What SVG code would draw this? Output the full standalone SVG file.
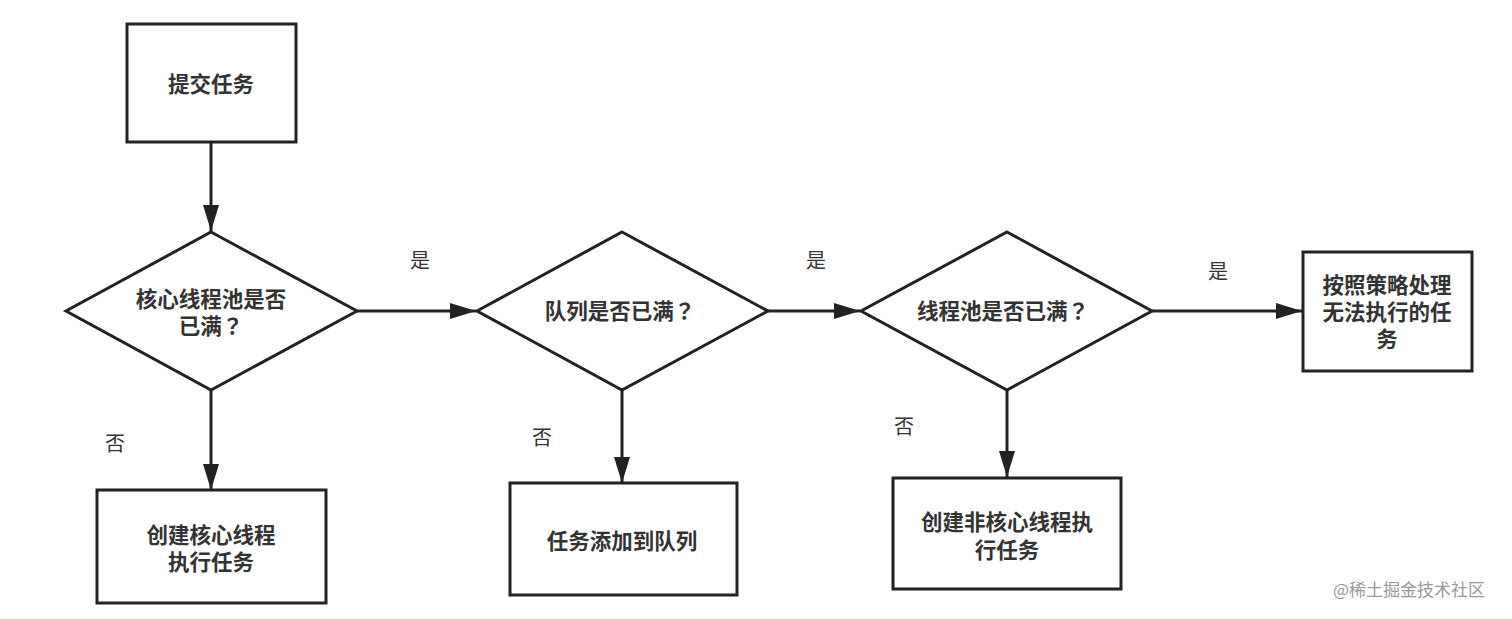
<svg xmlns="http://www.w3.org/2000/svg" width="1512" height="619" viewBox="0 0 1512 619">
<style>
.shape{fill:#fff;stroke:#222;stroke-width:3}
.edge{fill:none;stroke:#222;stroke-width:3}
text{font-family:"Noto Sans CJK SC","Noto Sans",sans-serif;font-size:21.5px;font-weight:bold;fill:#333;text-anchor:middle}
.q{font-family:"Noto Sans CJK TC","Noto Sans CJK SC",sans-serif}
.lbl{font-size:20px;font-weight:normal;fill:#333}
.wm{font-size:17px;font-weight:normal;fill:#999;text-anchor:start}
</style>
<defs>
<marker id="arrB" viewBox="0 0 26 16" refX="26" refY="8" markerWidth="26" markerHeight="16" markerUnits="userSpaceOnUse" orient="auto">
<path d="M0,0 L26,8 L0,16 z" fill="#222"/>
</marker>
</defs>
<rect width="1512" height="619" fill="#fff"/>
<g id="connectors">
<line class="edge" x1="211" y1="142" x2="211" y2="231" marker-end="url(#arrB)"/>
<line class="edge" x1="357" y1="311" x2="476" y2="311" marker-end="url(#arrB)"/>
<line class="edge" x1="768" y1="311" x2="860" y2="311" marker-end="url(#arrB)"/>
<line class="edge" x1="1152" y1="311" x2="1302" y2="311" marker-end="url(#arrB)"/>
<line class="edge" x1="211" y1="390" x2="211" y2="490" marker-end="url(#arrB)"/>
<line class="edge" x1="622" y1="390" x2="622" y2="483" marker-end="url(#arrB)"/>
<line class="edge" x1="1007" y1="390" x2="1007" y2="477" marker-end="url(#arrB)"/>
<text class="lbl" x="420" y="268">是</text>
<text class="lbl" x="816" y="268">是</text>
<text class="lbl" x="1218" y="279">是</text>
<text class="lbl" x="115" y="451">否</text>
<text class="lbl" x="542" y="445">否</text>
<text class="lbl" x="904" y="434">否</text>
</g>
<g id="n1">
<rect class="shape" x="127" y="24" width="169" height="118"/>
<text x="211" y="92">提交任务</text>
</g>
<g id="d1">
<polygon class="shape" points="211,232 357,311 211,390 66,311"/>
<text x="211" y="307">核心线程池是否<tspan x="211" dy="27">已满</tspan><tspan class="q">？</tspan></text>
</g>
<g id="d2">
<polygon class="shape" points="622,232 768,311 622,390 477,311"/>
<text x="620" y="319">队列是否已满<tspan class="q">？</tspan></text>
</g>
<g id="d3">
<polygon class="shape" points="1007,232 1152,311 1007,390 861,311"/>
<text x="1003" y="319">线程池是否已满<tspan class="q">？</tspan></text>
</g>
<g id="n4">
<rect class="shape" x="1303" y="252" width="169" height="119"/>
<text x="1387" y="293">按照策略处理<tspan x="1387" dy="27">无法执行的任</tspan><tspan x="1387" dy="27">务</tspan></text>
</g>
<g id="n2">
<rect class="shape" x="97" y="490" width="229" height="113"/>
<text x="211" y="543">创建核心线程<tspan x="211" dy="27">执行任务</tspan></text>
</g>
<g id="n3">
<rect class="shape" x="510" y="483" width="227" height="112"/>
<text x="622" y="549">任务添加到队列</text>
</g>
<g id="n5">
<rect class="shape" x="893" y="478" width="228" height="111"/>
<text x="1007" y="530">创建非核心线程执<tspan x="1007" dy="28">行任务</tspan></text>
</g>
<text class="wm" x="1333" y="596">@稀土掘金技术社区</text>
</svg>
